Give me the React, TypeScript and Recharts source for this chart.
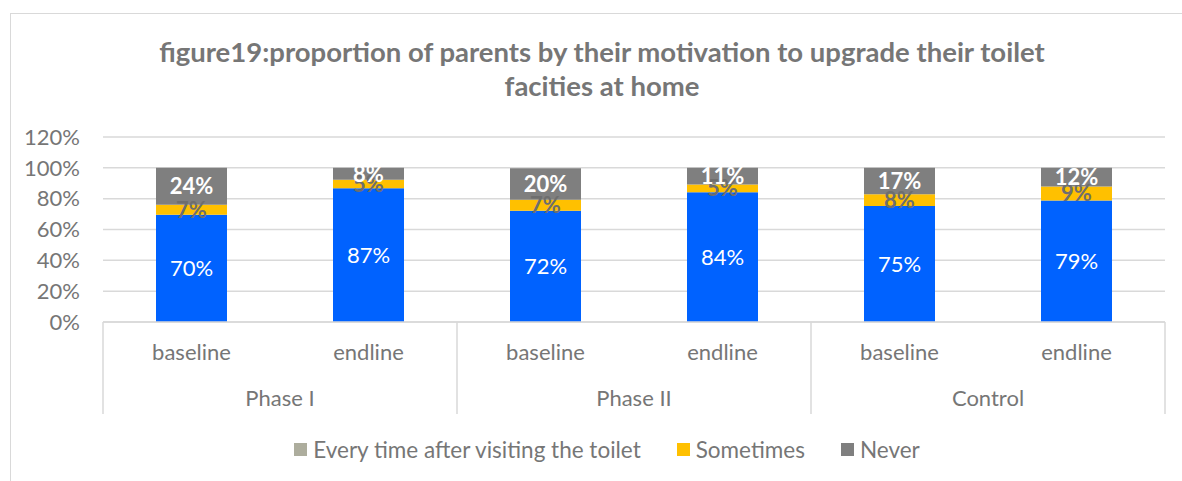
import { BarChart, Bar, XAxis, YAxis, CartesianGrid, Legend, LabelList, Cell } from 'recharts';

const phases = ['Phase I', 'Phase I', 'Phase II', 'Phase II', 'Control', 'Control'];
const periods = ['baseline', 'endline', 'baseline', 'endline', 'baseline', 'endline'];
const everyTime = [69.5, 86.8, 72.1, 84.2, 75.3, 78.8];
const sometimes = [6.6, 5.4, 7.2, 5.0, 7.6, 9.1];
const never = [23.9, 7.8, 20.4, 10.8, 17.1, 12.1];
const seriesNames = ['Every time after visiting the toilet', 'Sometimes', 'Never'];
const yTicks = [0, 20, 40, 60, 80, 100, 120];

const data = periods.map((period, i) => ({
  period,
  phase: phases[i],
  every: everyTime[i],
  sometimes: sometimes[i],
  never: never[i],
}));

const TEXT = '#767676';
const GRID = '#d9d9d9';
const BLUE = '#0062ff';
const FONT = 'Lato, sans-serif';
const PLOT_W = 1062;
const HALF_GROUP = PLOT_W / 6;

const fmt = (v: any) => `${Math.round(Number(v))}%`;

const PeriodTick = ({ x, y, payload }: any) => (
  <text x={x} y={y + 38} textAnchor="middle" fill={TEXT} fontSize={22} fontFamily={FONT}>
    {payload.value}
  </text>
);

const PhaseTick = ({ x, y, payload, index }: any) => (
  <g>
    {index === 0 && (
      <line x1={x - HALF_GROUP} y1={y - 46} x2={x - HALF_GROUP} y2={y + 46} stroke={GRID} strokeWidth={1.5} />
    )}
    <line x1={x + HALF_GROUP} y1={y - 46} x2={x + HALF_GROUP} y2={y + 46} stroke={GRID} strokeWidth={1.5} />
    <text x={x} y={y + 38} textAnchor="middle" fill={TEXT} fontSize={22} fontFamily={FONT}>
      {payload.value}
    </text>
  </g>
);

const renderLegend = (props: any) => {
  const items = [...(props.payload || [])].sort(
    (a: any, b: any) => seriesNames.indexOf(a.value) - seriesNames.indexOf(b.value)
  );
  return (
    <div style={{ display: 'flex', justifyContent: 'center', gap: 36, fontSize: 22.5, color: TEXT, fontFamily: FONT }}>
      {items.map((e: any) => (
        <div key={e.value} style={{ display: 'flex', alignItems: 'center' }}>
          <span style={{ width: 13, height: 13, background: e.color, marginRight: 6, display: 'inline-block' }} />
          {e.value}
        </div>
      ))}
    </div>
  );
};

export default function App() {
  return (
    <div style={{ position: 'absolute', left: 0, top: 0, width: 1182, height: 481, background: '#fff', overflow: 'hidden', fontFamily: FONT }}>
      <div style={{ position: 'absolute', left: 10, top: 13, width: 1200, height: 500, borderLeft: `1.5px solid ${GRID}`, borderTop: `1.5px solid ${GRID}` }} />
      <div style={{ position: 'absolute', left: 10, top: 35, width: 1184, textAlign: 'center', fontSize: 27.5, lineHeight: '34px', fontWeight: 700, color: TEXT }}>
        figure19:proportion of parents by their motivation to upgrade their toilet
        <br />
        facities at home
      </div>
      <div style={{ position: 'absolute', left: 0, top: 0 }}>
        <BarChart width={1182} height={481} data={data} margin={{ top: 137, right: 17, left: 23, bottom: 67 }}>
          <CartesianGrid vertical={false} stroke={GRID} strokeWidth={1.5} />
          <YAxis
            width={80}
            domain={[0, 120]}
            ticks={yTicks}
            interval={0}
            tickFormatter={(v: number) => `${v}%`}
            axisLine={false}
            tickLine={false}
            tickSize={0}
            tickMargin={23}
            tick={{ fill: TEXT, fontSize: 22, fontFamily: FONT }}
          />
          <XAxis
            dataKey="period"
            height={46}
            axisLine={{ stroke: GRID, strokeWidth: 1.5 }}
            tickLine={false}
            tickSize={0}
            tickMargin={0}
            interval={0}
            tick={<PeriodTick />}
          />
          <XAxis
            xAxisId="phase"
            dataKey="phase"
            allowDuplicatedCategory={false}
            height={46}
            axisLine={false}
            tickLine={false}
            tickSize={0}
            tickMargin={0}
            interval={0}
            tick={<PhaseTick />}
          />
          <Legend
            layout="horizontal"
            verticalAlign="middle"
            align="center"
            wrapperStyle={{ top: 436, left: 32, width: 1150 }}
            content={renderLegend}
          />
          <Bar dataKey="every" name={seriesNames[0]} stackId="a" fill="#adad9d" barSize={71} isAnimationActive={false}>
            {data.map((d) => (
              <Cell key={d.phase + d.period} fill={BLUE} />
            ))}
            <LabelList dataKey="every" position="center" formatter={fmt} fill="#ffffff" fontSize={22} fontFamily={FONT} />
          </Bar>
          <Bar dataKey="sometimes" name={seriesNames[1]} stackId="a" fill="#ffc000" barSize={71} isAnimationActive={false}>
            <LabelList dataKey="sometimes" position="center" formatter={fmt} fill="#6e6e6e" fontSize={22} fontWeight={700} fontFamily={FONT} />
          </Bar>
          <Bar dataKey="never" name={seriesNames[2]} stackId="a" fill="#7f7f7f" barSize={71} isAnimationActive={false}>
            <LabelList dataKey="never" position="center" formatter={fmt} fill="#ffffff" fontSize={22} fontWeight={700} fontFamily={FONT} />
          </Bar>
        </BarChart>
      </div>
    </div>
  );
}
